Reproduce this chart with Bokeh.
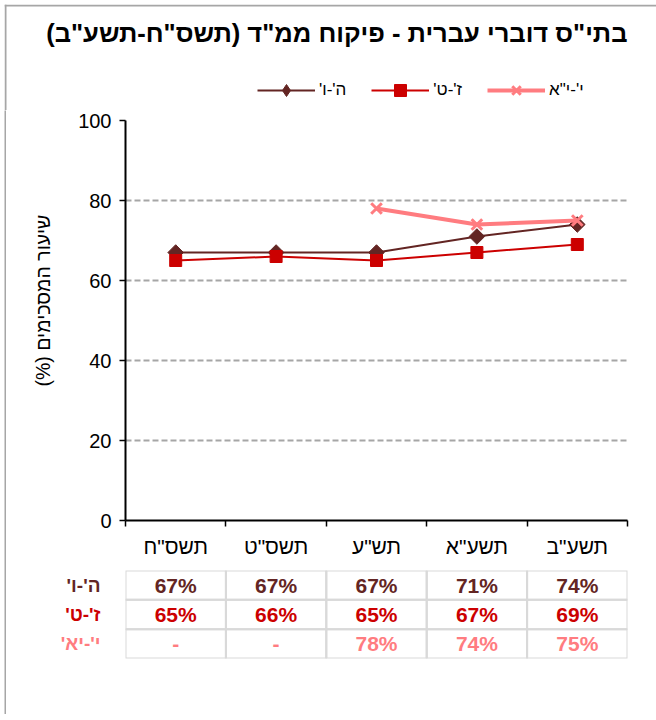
import math
from bokeh.plotting import figure
from bokeh.models import (Range1d, FactorRange, FixedTicker, Legend, LegendItem,
                          ColumnDataSource, Title, Label, Span, Spacer)
from bokeh.layouts import column, row
from bokeh.embed import file_html
from bokeh.resources import INLINE
from bokeh.core.properties import value

RLM = "\u200f"
FONT = "Liberation Sans"
BORDER = "#a6a6a6"

title_text = 'בתי"ס דוברי עברית - פיקוח ממ"ד (תשס"ח-תשע"ב)'
y_label = 'שיעור המסכימים (%)'
years = ['תשס"ח', 'תשס"ט', 'תש"ע', 'תשע"א', 'תשע"ב']
legend_names = ["ה'-ו'", "ז'-ט'", 'י\'-י"א']
table_names = ["ה'-ו'", "ז'-ט'", "י'-יא'"]
grade_5_6 = [67, 67, 67, 71, 74]
grade_7_9 = [65, 66, 65, 67, 69]
grade_10_11 = [float("nan"), float("nan"), 78, 74, 75]
y_ticks = [0, 20, 40, 60, 80, 100]
colors = ["#632523", "#cc0000", "#ff7c80"]

series = [grade_5_6, grade_7_9, grade_10_11]
n = len(years)
xpos = list(range(n))                      # category index positions
bounds = [i - 0.5 for i in range(n + 1)]   # category boundaries
x_range = Range1d(-0.5, n - 0.5)

common = dict(toolbar_location=None, output_backend="svg")
src = ColumnDataSource(dict(x=xpos, a=grade_5_6, b=grade_7_9, c=grade_10_11))


def add_series(fig, diamond_marker="square", diamond_angle=math.pi / 4):
    r = []
    r.append(fig.line("x", "a", source=src, line_color=colors[0], line_width=2))
    r.append(fig.scatter("x", "a", source=src, marker=diamond_marker, angle=diamond_angle,
                         size=11, fill_color=colors[0], line_color=colors[0]))
    r.append(fig.line("x", "b", source=src, line_color=colors[1], line_width=2))
    r.append(fig.scatter("x", "b", source=src, marker="square", size=12,
                         fill_color=colors[1], line_color=colors[1]))
    r.append(fig.line("x", "c", source=src, line_color=colors[2], line_width=4))
    r.append(fig.scatter("x", "c", source=src, marker="x", size=15,
                         line_color=colors[2], line_width=3))
    return r


def bar(w, h):
    f = figure(width=w, height=h, title=None, x_axis_type=None, y_axis_type=None,
               min_border=0, x_range=Range1d(0, 1), y_range=Range1d(0, 1), **common)
    f.background_fill_color = BORDER
    f.border_fill_color = BORDER
    f.outline_line_color = None
    f.grid.visible = False
    return f


W = 648
LEFT = 119
RIGHT = 27
TOP_W = 652
TOP_H = 106

# ---------------- top strip: box border, title + legend ----------------
t = figure(width=TOP_W, height=TOP_H, title=None,
           x_range=Range1d(0, TOP_W), y_range=Range1d(-TOP_H, 0),
           x_axis_type=None, y_axis_type=None, min_border=0, **common)
t.outline_line_color = None
t.grid.visible = False
t.background_fill_color = "white"
t.border_fill_color = "white"

t.add_layout(Span(location=-1, dimension="width", line_color=BORDER, line_width=2))
t.add_layout(Span(location=1, dimension="height", line_color=BORDER, line_width=2))

t.add_layout(Label(x=623, y=TOP_H - 28, x_units="screen", y_units="screen",
                   text=RLM + title_text + RLM, text_align="right", text_baseline="middle",
                   text_font=FONT, text_font_size="25.5px", text_font_style="bold",
                   text_color="black"))

# the legend's renderers hold the real series, but lie outside this strip's ranges
tr = add_series(t, diamond_marker="diamond", diamond_angle=0)
legend = Legend(items=[LegendItem(label=RLM + legend_names[0] + RLM, renderers=tr[0:2]),
                       LegendItem(label=RLM + legend_names[1] + RLM, renderers=tr[2:4]),
                       LegendItem(label=RLM + legend_names[2] + RLM, renderers=tr[4:6])],
                orientation="horizontal", location=(253, 5), glyph_width=58, glyph_height=30,
                label_standoff=4, spacing=25, padding=0, margin=0,
                border_line_color=None, background_fill_alpha=0,
                label_text_font=FONT, label_text_font_size="17px", label_text_color="black")
t.add_layout(legend, "center")

# ---------------- chart ----------------
p = figure(width=W, height=452, x_range=x_range, y_range=Range1d(0, 100),
           min_border_left=LEFT, min_border_right=RIGHT, min_border_top=10, min_border_bottom=42,
           **common)
p.outline_line_color = None
p.xgrid.visible = False

yax = p.yaxis[0]
yax.ticker = FixedTicker(ticks=y_ticks)
yax.major_tick_in = 0
yax.major_tick_out = 6
yax.minor_tick_out = 0
yax.minor_tick_in = 0
yax.axis_line_color = "black"
yax.axis_line_width = 2
yax.major_tick_line_color = "black"
yax.major_tick_line_width = 1.5
yax.major_label_text_font = FONT
yax.major_label_text_font_size = "20px"
yax.major_label_text_color = "black"
yax.major_label_standoff = 8

ytitle = Title(text=RLM + y_label + RLM, align="left", offset=134, standoff=43,
               text_font=FONT, text_font_size="19.5px", text_font_style="normal",
               text_color="black")
p.add_layout(ytitle, "left")

p.ygrid.ticker = FixedTicker(ticks=y_ticks)
p.ygrid.grid_line_color = BORDER
p.ygrid.grid_line_width = 2
p.ygrid.grid_line_dash = "6 3"

xax = p.xaxis[0]
xax.ticker = FixedTicker(ticks=xpos, minor_ticks=bounds)
xax.major_label_overrides = {i: yr for i, yr in zip(xpos, years)}
xax.major_tick_in = 0
xax.major_tick_out = 0
xax.minor_tick_in = 0
xax.minor_tick_out = 6
xax.minor_tick_line_color = "black"
xax.minor_tick_line_width = 1.5
xax.axis_line_color = "black"
xax.axis_line_width = 2
xax.major_label_standoff = 8
xax.major_label_text_font = FONT
xax.major_label_text_font_size = "21px"
xax.major_label_text_color = "black"

add_series(p)

# ---------------- data table ----------------
row_range = FactorRange(factors=list(reversed(table_names)), range_padding=0)

q = figure(width=W - LEFT, height=100, x_range=x_range, y_range=row_range,
           x_axis_type=None, y_axis_type=None,
           min_border_left=0, min_border_right=RIGHT, min_border_top=8, min_border_bottom=4,
           **common)
q.outline_line_color = None
q.grid.visible = False

cx, cy, ct, cc = [], [], [], []
for name, vals, col in zip(table_names, series, colors):
    for xi, v in zip(xpos, vals):
        cx.append(xi)
        cy.append(name)
        ct.append("-" if math.isnan(v) else f"{v:.0f}%")
        cc.append(col)
tsrc = ColumnDataSource(dict(x=cx, y=cy, t=ct, c=cc))
q.rect(x="x", y="y", width=1, height=1, source=tsrc, fill_color=None,
       line_color="#d9d9d9", line_width=2)
q.text(x="x", y="y", text="t", text_color="c", source=tsrc, text_align="center",
       text_baseline="middle", text_font=value(FONT), text_font_size="21px",
       text_font_style="bold")

lab = figure(width=LEFT, height=100, x_range=Range1d(0, 1), y_range=row_range,
             x_axis_type=None, y_axis_type=None,
             min_border_left=0, min_border_right=0, min_border_top=8, min_border_bottom=4,
             **common)
lab.outline_line_color = None
lab.grid.visible = False
lsrc = ColumnDataSource(dict(y=table_names, label=[RLM + s + RLM for s in table_names], c=colors))
lab.text(x=1, y="y", text="label", text_color="c", source=lsrc, x_offset=-25,
         text_align="right", text_baseline="middle", text_font=value(FONT),
         text_font_size="19px", text_font_style="bold")

body = column(p, row(lab, q, spacing=0), spacing=0)
framed = column(t, row(bar(2, 604), body, spacing=0), spacing=0)
layout = column(Spacer(width=656, height=4),
                row(Spacer(width=4, height=710), framed, spacing=0), spacing=0)

open("out.html", "w").write(file_html(layout, INLINE))
